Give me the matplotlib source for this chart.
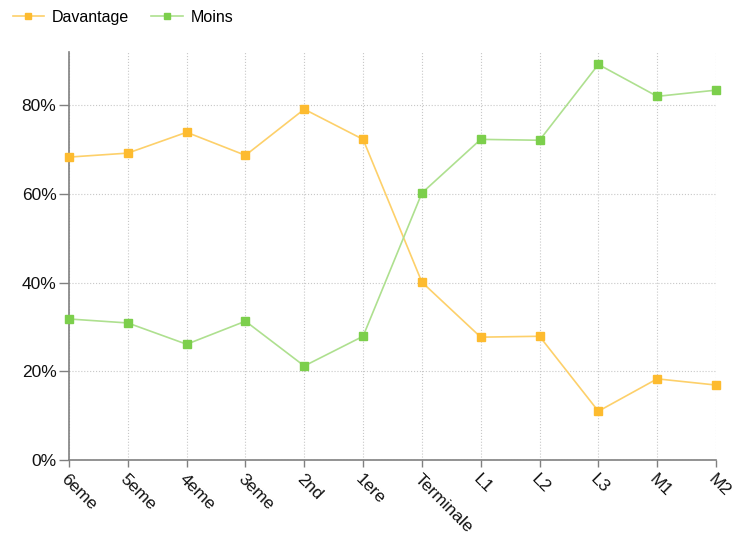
import matplotlib.pyplot as plt
from matplotlib.ticker import PercentFormatter

niveaux = ["6eme", "5eme", "4eme", "3eme", "2nd", "1ere", "Terminale",
           "L1", "L2", "L3", "M1", "M2"]
davantage = [68.3, 69.2, 73.9, 68.7, 79.1, 72.3, 40.1, 27.7, 27.9, 11.0, 18.3, 16.9]
moins = [31.8, 30.9, 26.1, 31.3, 21.2, 27.9, 60.2, 72.3, 72.1, 89.2, 82.0, 83.4]
y_ticks = [0, 20, 40, 60, 80]


def main():
    plt.rcParams["font.family"] = ["Liberation Sans", "DejaVu Sans"]
    fig = plt.figure(figsize=(7.34, 5.34), dpi=100)
    ax = fig.add_axes([69 / 734, 1 - 460 / 534, (716 - 69) / 734, (460 - 52) / 534])

    x = list(range(len(niveaux)))
    ax.plot(x, davantage, color="#fdd06a", lw=1.2, marker="s", ms=5.5,
            mfc="#fdbb2f", mec="#fdbb2f", label="Davantage", zorder=3,
            clip_on=False)
    ax.plot(x, moins, color="#aee08f", lw=1.2, marker="s", ms=5.5,
            mfc="#7ccf4c", mec="#7ccf4c", label="Moins", zorder=3,
            clip_on=False)

    ax.set_xlim(0, len(niveaux) - 1)
    ax.set_ylim(0, 92)
    ax.set_yticks(y_ticks)
    ax.yaxis.set_major_formatter(PercentFormatter(decimals=0))
    ax.set_xticks(x)
    ax.set_xticklabels(niveaux, rotation=-45, ha="left", va="top",
                       rotation_mode="anchor")

    ax.grid(True, color="#c8c8c8", ls=":", lw=0.8)
    for side in ["top", "right"]:
        ax.spines[side].set_visible(False)
    for side in ["left", "bottom"]:
        ax.spines[side].set_color("#808080")
        ax.spines[side].set_linewidth(1.2)
    ax.tick_params(axis="both", colors="#808080", width=1,
                   labelcolor="#111111", labelsize=12.5)
    ax.tick_params(axis="y", length=7, pad=2)
    ax.tick_params(axis="x", length=5, pad=3)

    fig.legend(loc="upper left", bbox_to_anchor=(0.004, 1.0), ncol=2,
               frameon=False, fontsize=11.5, handlelength=2.0,
               handletextpad=0.45, columnspacing=1.4, borderaxespad=0.2,
               markerscale=0.9)

    fig.savefig("out.png", dpi=100)


if __name__ == "__main__":
    main()
